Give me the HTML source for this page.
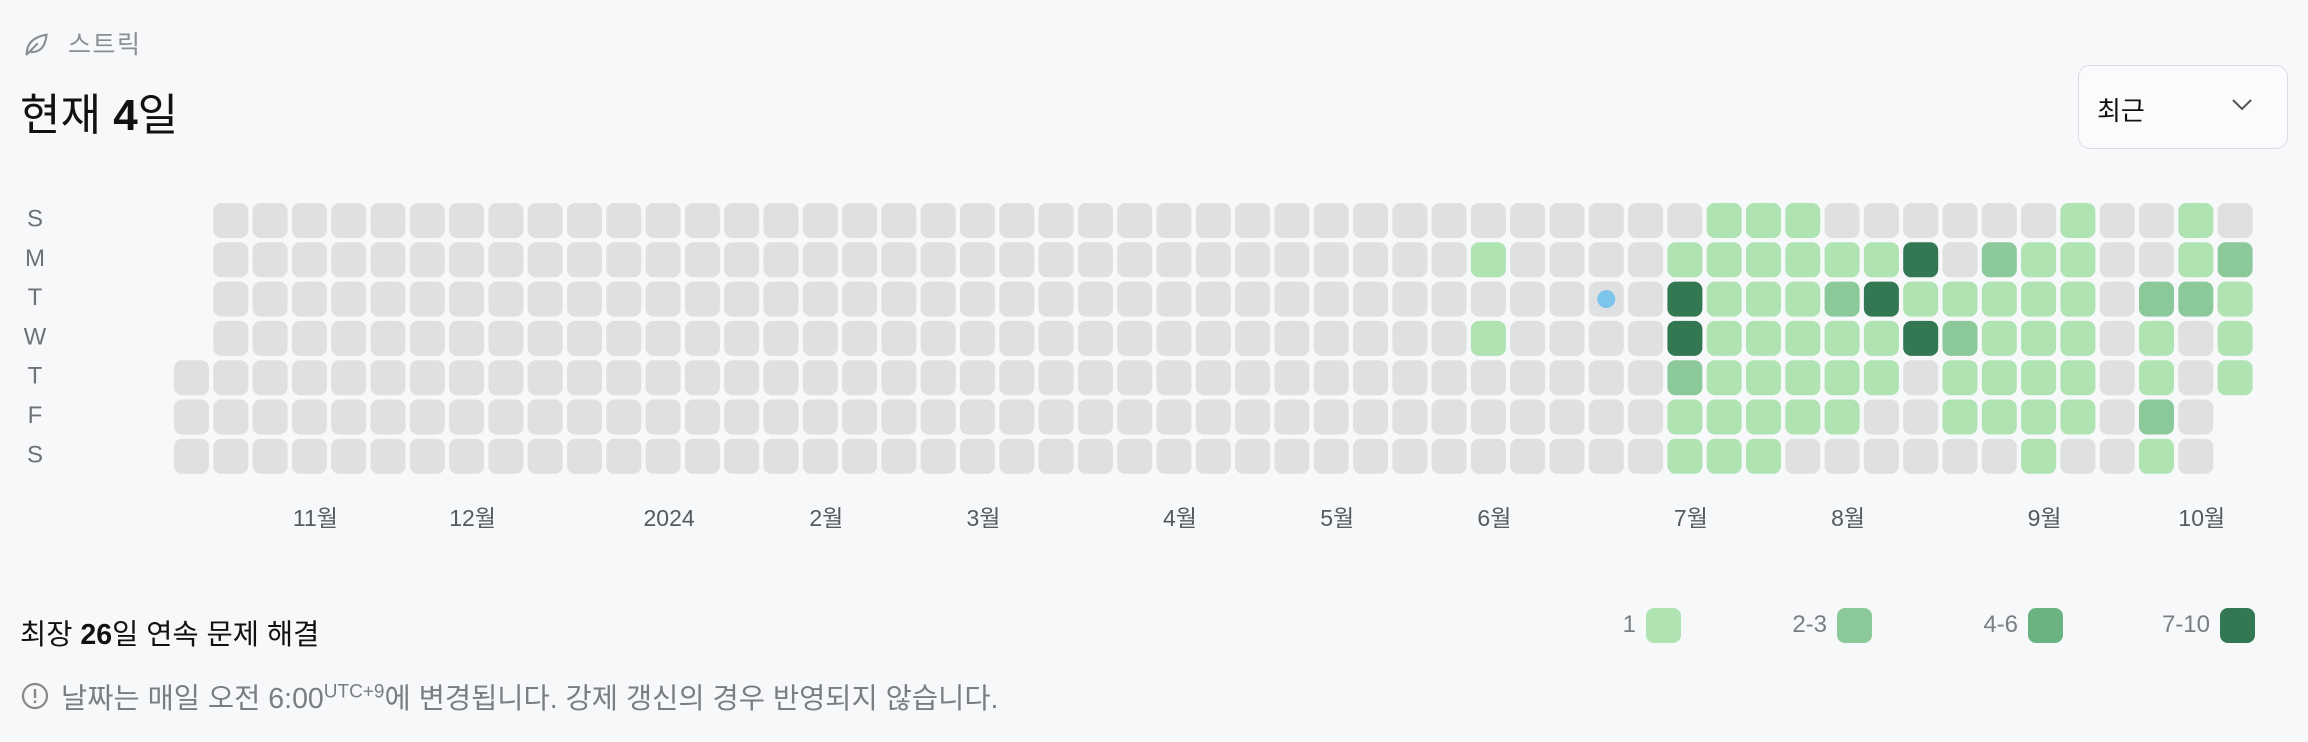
<!DOCTYPE html>
<html><head><meta charset="utf-8">
<style>
html,body{margin:0;padding:0;background:#f7f8fa;width:2308px;height:742px;overflow:hidden;font-family:"Liberation Sans","Noto Sans CJK KR",sans-serif;}
.abs{position:absolute;}
</style></head>
<body>
<svg class="abs" style="left:22px;top:30px" width="28" height="28" viewBox="0 0 24 24" fill="none" stroke="#8a8d92" stroke-width="1.8" stroke-linecap="round"><path d="M4 21c0-9 5-15 17-17-1 11-6 15-13 15"/><path d="M4 21l9-9"/></svg>
<div class="abs" style="left:68px;top:25px;font-size:25px;letter-spacing:1.5px;color:#8a8d92;">스트릭</div>
<div class="abs" style="left:20px;top:79px;font-size:44px;color:#111;">현재 <b>4</b>일</div>
<div class="abs" style="left:2078px;top:65px;width:210px;height:84px;border:1.5px solid #dcdde0;border-radius:12px;background:#fafbfc;box-sizing:border-box;">
<span style="position:absolute;left:18px;top:25px;font-size:26px;color:#111;">최근</span>
<svg style="position:absolute;left:152px;top:32px" width="22" height="14" viewBox="0 0 22 14"><path d="M2 2l9 9 9-9" fill="none" stroke="#555" stroke-width="2"/></svg>
</div>
<svg class="abs" id="chart" style="left:0;top:0" width="2308" height="560"></svg>
<div class="abs" style="left:20px;top:612px;font-size:28.5px;color:#111;">최장 <b>26</b>일 연속 문제 해결</div>
<div id="legend"></div>
<svg class="abs" style="left:20px;top:681px" width="30" height="30" viewBox="0 0 30 30"><circle cx="15" cy="15" r="12" fill="none" stroke="#888" stroke-width="2.2"/><rect x="13.8" y="8" width="2.4" height="9" fill="#888"/><rect x="13.8" y="19.5" width="2.4" height="2.6" fill="#888"/></svg>
<div class="abs" style="left:61px;top:676px;font-size:28.5px;color:#7a7d82;">날짜는 매일 오전 6:00<sup style="font-size:19px">UTC+9</sup>에 변경됩니다. 강제 갱신의 경우 반영되지 않습니다.</div>
<script>
const dayLabels=["S","M","T","W","T","F","S"];
const sunRow=[-1,0,0,0,0,0,0,0,0,0,0,0,0,0,0,0,0,0,0,0,0,0,0,0,0,0,0,0,0,0,0,0,0,0,0,0,0,0,0,1,1,1,0,0,0,0,0,0,1,0,0,1,0];
const monRow=[-1,0,0,0,0,0,0,0,0,0,0,0,0,0,0,0,0,0,0,0,0,0,0,0,0,0,0,0,0,0,0,0,0,1,0,0,0,0,1,1,1,1,1,1,4,0,2,1,1,0,0,1,2];
const tueRow=[-1,0,0,0,0,0,0,0,0,0,0,0,0,0,0,0,0,0,0,0,0,0,0,0,0,0,0,0,0,0,0,0,0,0,0,0,0,0,4,1,1,1,2,4,1,1,1,1,1,0,2,2,1];
const wedRow=[-1,0,0,0,0,0,0,0,0,0,0,0,0,0,0,0,0,0,0,0,0,0,0,0,0,0,0,0,0,0,0,0,0,1,0,0,0,0,4,1,1,1,1,1,4,2,1,1,1,0,1,0,1];
const thuRow=[0,0,0,0,0,0,0,0,0,0,0,0,0,0,0,0,0,0,0,0,0,0,0,0,0,0,0,0,0,0,0,0,0,0,0,0,0,0,2,1,1,1,1,1,0,1,1,1,1,0,1,0,1];
const friRow=[0,0,0,0,0,0,0,0,0,0,0,0,0,0,0,0,0,0,0,0,0,0,0,0,0,0,0,0,0,0,0,0,0,0,0,0,0,0,1,1,1,1,1,0,0,1,1,1,1,0,2,0,-1];
const satRow=[0,0,0,0,0,0,0,0,0,0,0,0,0,0,0,0,0,0,0,0,0,0,0,0,0,0,0,0,0,0,0,0,0,0,0,0,0,0,1,1,1,0,0,0,0,0,0,1,0,0,1,0,-1];
const monthLabels=["11월","12월","2024","2월","3월","4월","5월","6월","7월","8월","9월","10월"];
const monthCols=[3,7,12,16,20,25,29,33,38,42,47,51];
const todayCol=36, todayRow=2;
const legendLabels=["1","2-3","4-6","7-10"];

const rows=[sunRow,monRow,tueRow,wedRow,thuRow,friRow,satRow];
const colors={0:"#dfe0e2",1:"#afe3b2",2:"#8bc99a",3:"#6bb383",4:"#337853"};
const X0=174,Y0=203,P=39.3,C=35;
const xs=c=>X0+c*P, ys=r=>Y0+r*P;
const svg=document.getElementById('chart');
const NS="http://www.w3.org/2000/svg";
dayLabels.forEach((d,i)=>{
  const t=document.createElementNS(NS,'text');
  
  
  t.setAttribute('x',35);t.setAttribute('y',ys(i)+C/2+6);
  t.setAttribute('text-anchor','middle');t.setAttribute('font-size','24');t.setAttribute('fill','#6e7176');
  t.textContent=d;svg.appendChild(t);
});
rows.forEach((row,r)=>{
  row.forEach((v,c)=>{
    if(v<0)return;
    const e=document.createElementNS(NS,'rect');
    
    
    e.setAttribute('x',xs(c));e.setAttribute('y',ys(r));
    e.setAttribute('width',C);e.setAttribute('height',C);
    e.setAttribute('rx',8);e.setAttribute('fill',colors[v]);
    svg.appendChild(e);
  });
});
const dot=document.createElementNS(NS,'circle');


dot.setAttribute('cx',xs(todayCol)+C/2);dot.setAttribute('cy',ys(todayRow)+C/2);
dot.setAttribute('r',9);dot.setAttribute('fill','#7cc5ea');svg.appendChild(dot);
monthLabels.forEach((m,i)=>{
  const t=document.createElementNS(NS,'text');
  
  
  t.setAttribute('x',xs(monthCols[i])+C/2+6);t.setAttribute('y',526);
  t.setAttribute('text-anchor','middle');t.setAttribute('font-size','23');t.setAttribute('fill','#555a60');
  t.textContent=m;svg.appendChild(t);
});
const legend=document.getElementById('legend');
const boxX=[1646,1837,2028,2220];
legendLabels.forEach((l,i)=>{
  const b=document.createElement('div');
  
  
  b.className='abs';
  b.style.cssText=`left:${boxX[i]}px;top:608px;width:35px;height:35px;border-radius:8px;background:${colors[i+1]}`;
  legend.appendChild(b);
  const t=document.createElement('div');
  
  
  t.className='abs';
  t.style.cssText=`right:${2308-boxX[i]+10}px;top:611px;font-size:24px;color:#7a7d82`;
  t.textContent=l;legend.appendChild(t);
});
</script>
</body></html>
